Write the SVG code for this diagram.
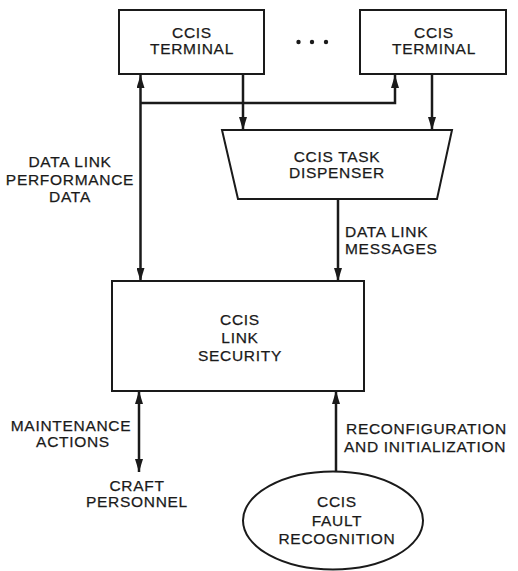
<svg xmlns="http://www.w3.org/2000/svg" width="518" height="571" viewBox="0 0 518 571">
<style>
.box{fill:#fff;stroke:#1a1a1a;stroke-width:2}
.ln{fill:none;stroke:#1a1a1a;stroke-width:2.5}
text{font-family:"Liberation Sans",Arial,sans-serif;font-size:15.5px;fill:#1a1a1a;stroke:#1a1a1a;stroke-width:0.25;letter-spacing:0.7px}
.c{text-anchor:middle}
</style>
<defs>
<marker id="ah" markerUnits="userSpaceOnUse" markerWidth="13" markerHeight="8" refX="13" refY="4" orient="auto-start-reverse">
<path d="M0,0 L13,4 L0,8 z" fill="#1a1a1a"/>
</marker>
</defs>
<rect width="518" height="571" fill="#fff"/>
<g id="connectors">
<path class="ln" d="M140.5,75 V281" marker-start="url(#ah)" marker-end="url(#ah)"/>
<path class="ln" d="M140.5,103 H395 V75" marker-end="url(#ah)"/>
<path class="ln" d="M243,74 V130" marker-end="url(#ah)"/>
<path class="ln" d="M432,74 V130" marker-end="url(#ah)"/>
<path class="ln" d="M338,199 V281" marker-end="url(#ah)"/>
<path class="ln" d="M139,391 V472" marker-start="url(#ah)" marker-end="url(#ah)"/>
<path class="ln" d="M336,471 V391" marker-end="url(#ah)"/>
</g>
<g id="terminal1">
<rect class="box" x="119" y="10" width="145" height="64"/>
<text class="c" x="192" y="37.5">CCIS</text>
<text class="c" x="192" y="54">TERMINAL</text>
</g>
<g id="ellipsis">
<circle cx="298.5" cy="42" r="2.2" fill="#1a1a1a"/>
<circle cx="312" cy="42" r="2.2" fill="#1a1a1a"/>
<circle cx="326" cy="42" r="2.2" fill="#1a1a1a"/>
</g>
<g id="terminal2">
<rect class="box" x="360" y="10" width="146" height="64"/>
<text class="c" x="434" y="37.5">CCIS</text>
<text class="c" x="434" y="54">TERMINAL</text>
</g>
<g id="dispenser">
<polygon class="box" points="222,130 452,130 437,199 238,199"/>
<text class="c" x="337" y="161.5">CCIS TASK</text>
<text class="c" x="337" y="178">DISPENSER</text>
</g>
<g id="link-security">
<rect class="box" x="112" y="281" width="252" height="110"/>
<text class="c" x="240" y="325">CCIS</text>
<text class="c" x="240" y="342.5">LINK</text>
<text class="c" x="240" y="360.5">SECURITY</text>
</g>
<g id="fault-recognition">
<ellipse class="box" cx="333" cy="520.5" rx="90" ry="49"/>
<text class="c" x="337" y="507">CCIS</text>
<text class="c" x="337" y="525.5">FAULT</text>
<text class="c" x="337" y="543.5">RECOGNITION</text>
</g>
<g id="craft-personnel">
<text class="c" x="137" y="490.5">CRAFT</text>
<text class="c" x="137" y="507">PERSONNEL</text>
</g>
<g id="labels">
<text class="c" x="70" y="166.5">DATA LINK</text>
<text class="c" x="70" y="185">PERFORMANCE</text>
<text class="c" x="70" y="202">DATA</text>
<text x="345" y="237">DATA LINK</text>
<text x="345" y="253.5">MESSAGES</text>
<text class="c" x="71" y="430.5">MAINTENANCE</text>
<text class="c" x="73" y="447">ACTIONS</text>
<text x="346" y="434">RECONFIGURATION</text>
<text x="344" y="452">AND INITIALIZATION</text>
</g>
</svg>
